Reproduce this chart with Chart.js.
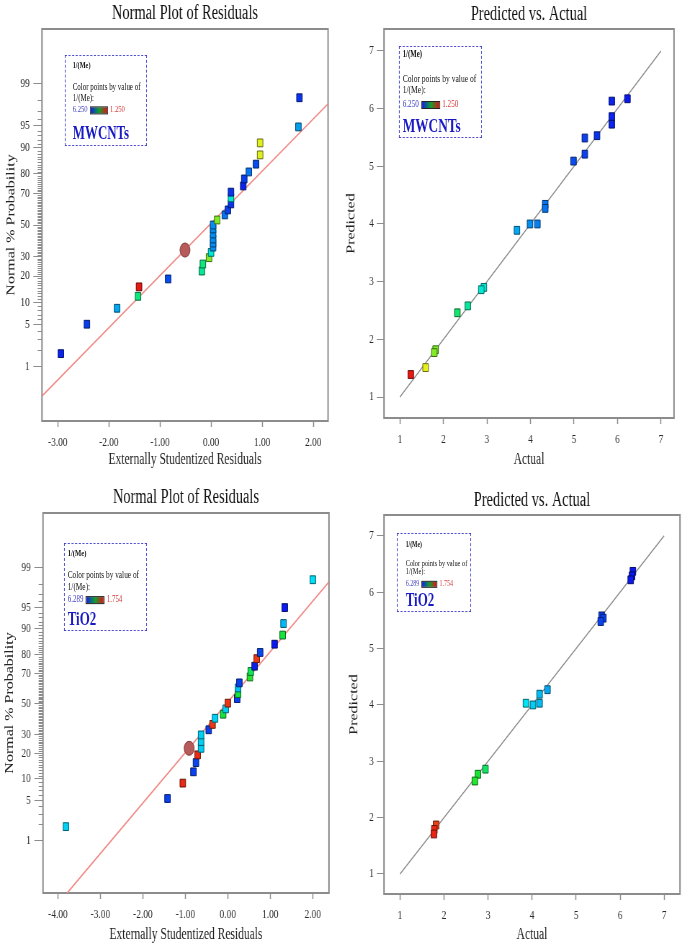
<!DOCTYPE html>
<html lang="en">
<head>
<meta charset="UTF-8">
<title>Normal Plot of Residuals / Predicted vs. Actual - MWCNTs and TiO2</title>
<script src="https://cdn.jsdelivr.net/npm/chart.js"></script>
<style>
  body { margin: 0; background: #fff; font-family: "Liberation Serif", "Times New Roman", serif; }
  #page { position: relative; width: 685px; height: 948px; overflow: hidden; background: #fff; }
  /* the source figure is squeezed sideways, so every panel is drawn wide and scaled down in x */
  .panel { position: absolute; transform: scaleX(0.72); transform-origin: 0 0; }
  .panel canvas { position: absolute; left: 0; top: 0; }
  .legend { position: absolute; box-sizing: border-box; border: 1.5px dashed #3535c8; color: #111; }
  .legend div { position: absolute; white-space: nowrap; line-height: 1; transform: translateY(-50%); }
  .legend .bar { display: inline-block; vertical-align: middle; box-sizing: border-box; border: 1px solid #222;
                 background: linear-gradient(to right, #1020e0, #10a030, #e01010); margin: 0 3px; }
</style>
</head>
<body>
<div id="page">
  <div class="panel" id="pTL" style="left:0;top:0;width:472px;height:474px"><canvas id="cTL" width="472" height="474"></canvas></div>
  <div class="panel" id="pTR" style="left:340px;top:0;width:479px;height:474px"><canvas id="cTR" width="479" height="474"></canvas></div>
  <div class="panel" id="pBL" style="left:0;top:474px;width:472px;height:474px"><canvas id="cBL" width="472" height="474"></canvas></div>
  <div class="panel" id="pBR" style="left:340px;top:474px;width:479px;height:474px"><canvas id="cBR" width="479" height="474"></canvas></div>
</div>
<script>
const K = 0.72;

// tick labels
const probTicks = [1, 5, 10, 20, 30, 50, 70, 80, 90, 95, 99];
const mwResidTicks = [-3, -2, -1, 0, 1, 2];
const tiResidTicks = [-4, -3, -2, -1, 0, 1, 2];
const unitTicks = [1, 2, 3, 4, 5, 6, 7];

// MWCNTs - normal plot of residuals (runs ordered by probability)
const mwResid = [-2.94, -2.43, -1.84, -1.43, -1.41, -0.84, -0.18, -0.16, -0.04, 0.00,
                 0.04, 0.04, 0.04, 0.04, 0.04, 0.04, 0.12, 0.27, 0.33, 0.39,
                 0.39, 0.39, 0.63, 0.65, 0.74, 0.88, 0.96, 0.96, 1.71, 1.73];
const mwProb = [1.7, 5.1, 8.5, 12.0, 15.4, 18.7, 22.4, 26.0, 29.5, 32.6,
                35.8, 38.3, 40.9, 44.1, 47.4, 50.0, 53.3, 56.6, 59.8, 63.6,
                67.3, 70.6, 74.0, 77.6, 80.9, 84.2, 87.6, 91.2, 94.7, 98.2];
// 1/(Me) of each run, which sets the point colour
const mwRunVal = [5.9, 5.3, 3.7, 2.4, 1.25, 5.0, 2.5, 2.4, 1.8, 2.9,
                  4.0, 4.0, 4.0, 4.0, 4.0, 4.0, 1.8, 4.3, 5.2, 5.5,
                  2.9, 5.5, 5.9, 5.3, 4.3, 5.0, 1.6, 1.6, 3.8, 5.5];
const mwFitResid = [-3.31, 2.29];
const mwFitProb = [0.24, 97.7];
const mwMarkResid = [-0.51];
const mwMarkProb = [34];

// MWCNTs - predicted vs. actual
const mwActual = [6.23, 5.87, 5.87, 5.87, 5.53, 5.25, 5.25, 4.99, 4.34, 4.34, 4.16,
                  3.99, 3.69, 2.93, 2.87, 2.56, 2.32, 1.82, 1.79, 1.59, 1.25];
const mwPredicted = [6.17, 6.13, 5.86, 5.73, 5.53, 5.49, 5.21, 5.09, 4.34, 4.27, 4.00,
                     4.00, 3.89, 2.90, 2.86, 2.58, 2.46, 1.82, 1.77, 1.51, 1.39];

// TiO2 - normal plot of residuals
const tiResid = [-3.81, -1.42, -1.06, -0.81, -0.75, -0.71, -0.63, -0.63, -0.63, -0.45,
                 -0.36, -0.30, -0.11, -0.05, 0.00, 0.22, 0.24, 0.24, 0.27, 0.52,
                 0.54, 0.63, 0.68, 0.76, 1.10, 1.29, 1.31, 1.34, 2.00];
const tiProb = [1.8, 5.3, 8.8, 12.3, 15.8, 19.2, 22.4, 26.0, 29.8, 32.9,
                36.3, 40.3, 43.0, 46.6, 50.5, 53.6, 57.0, 60.7, 64.0, 67.7,
                71.0, 74.0, 78.0, 81.0, 84.6, 88.0, 91.5, 95.0, 98.3];
const tiRunVal = [4.0, 5.6, 1.78, 5.6, 5.5, 1.78, 4.0, 4.0, 4.0, 5.6,
                  1.8, 4.0, 2.8, 4.0, 1.8, 5.6, 2.8, 4.1, 5.6, 2.7,
                  2.9, 6.2, 1.8, 5.5, 6.3, 2.8, 4.2, 6.2, 3.9];
const tiFitResid = [-3.78, 2.37];
const tiFitProb = [0.062, 98.1];
const tiMarkResid = [-0.91];
const tiMarkProb = [22.4];

// TiO2 - predicted vs. actual
const tiActual = [6.29, 6.27, 6.24, 5.58, 5.62, 5.56, 4.35, 4.17, 4.17, 4.02, 3.86,
                  2.94, 2.77, 2.70, 1.82, 1.78, 1.77];
const tiPredicted = [6.37, 6.29, 6.22, 5.58, 5.54, 5.48, 4.27, 4.19, 4.03, 4.00, 4.03,
                     2.86, 2.77, 2.65, 1.87, 1.79, 1.71];

const diagonal = [1, 7];

Chart.defaults.font.family = '"Liberation Serif", "Times New Roman", serif';

// inverse normal CDF (Acklam), used for the normal-probability axis
function probit(p) {
  const a = [-39.69683028665376, 220.9460984245205, -275.9285104469687, 138.3577518672690, -30.66479806614716, 2.506628277459239];
  const b = [-54.47609879822406, 161.5858368580409, -155.6989798598866, 66.80131188771972, -13.28068155288572];
  const c = [-0.007784894002430293, -0.3223964580411365, -2.400758277161838, -2.549732539343734, 4.374664141464968, 2.938163982698783];
  const d = [0.007784695709041462, 0.3224671290700398, 2.445134137142996, 3.754408661907416];
  const lo = 0.02425;
  let q, r;
  if (p < lo || p > 1 - lo) {
    q = Math.sqrt(-2 * Math.log(p < lo ? p : 1 - p));
    const z = (((((c[0]*q+c[1])*q+c[2])*q+c[3])*q+c[4])*q+c[5]) / ((((d[0]*q+d[1])*q+d[2])*q+d[3])*q+1);
    return p < lo ? z : -z;
  }
  q = p - 0.5; r = q * q;
  return (((((a[0]*r+a[1])*r+a[2])*r+a[3])*r+a[4])*r+a[5])*q / (((((b[0]*r+b[1])*r+b[2])*r+b[3])*r+b[4])*r+1);
}

// colour scale of Design-Expert: blue (high 1/(Me)) -> red (low), linear in Me
function meRgb(v, hi, lo) {
  const s = Math.min(1, Math.max(0, (1 / v - 1 / hi) / (1 / lo - 1 / hi)));
  const stops = [[12, 24, 235], [0, 232, 245], [24, 228, 48], [245, 240, 30], [232, 24, 20]];
  const f = s * 4, i = Math.min(3, Math.floor(f)), t = f - i;
  return stops[i].map((a, k) => Math.round(a + (stops[i + 1][k] - a) * t));
}
const fill = rgb => 'rgb(' + rgb.join(',') + ')';
const edge = rgb => 'rgb(' + rgb.map(c => Math.round(c * 0.45)).join(',') + ')';

const framePlugin = {
  id: 'frame',
  beforeDatasetsDraw(chart) {
    const { ctx, chartArea: a } = chart;
    ctx.save();
    ctx.strokeStyle = '#8c8c8c';
    ctx.lineWidth = 2;
    ctx.strokeRect(a.left, a.top, a.right - a.left, a.bottom - a.top);
    ctx.restore();
  }
};

const minorTickPlugin = {
  id: 'minorTicks',
  afterDraw(chart, args, opts) {
    if (!opts.values || !opts.values.length) return;
    const { ctx, chartArea: a } = chart;
    const y = chart.scales.y;
    ctx.save();
    ctx.strokeStyle = '#8c8c8c';
    ctx.lineWidth = 1;
    opts.values.forEach(v => {
      const py = Math.round(y.getPixelForValue(v)) + 0.5;
      ctx.beginPath();
      ctx.moveTo(a.left - 6, py);
      ctx.lineTo(a.left, py);
      ctx.stroke();
    });
    ctx.restore();
  }
};

function axis(o) {
  return {
    type: 'linear', position: o.pos, min: o.min, max: o.max,
    afterBuildTicks: s => { s.ticks = o.ticks.map(value => ({ value })); },
    afterFit: s => { if (o.pos === 'bottom') s.height = o.size; else s.width = o.size; },
    grid: { drawOnChartArea: false, drawTicks: true, tickLength: o.tickLen, tickColor: '#8c8c8c', tickWidth: o.tickWidth },
    border: { display: false },
    ticks: { autoSkip: false, maxRotation: 0, padding: o.pad, color: '#2a2a2a', font: { size: 13 }, callback: o.label },
    title: { display: true, text: o.title, color: '#222', font: { size: 16 }, padding: o.titlePad }
  };
}

function options(g, title, xAxis, yAxis, minor) {
  return {
    responsive: false, animation: false, devicePixelRatio: 1, events: [],
    layout: { padding: { left: 0, top: 0, right: g.W - g.right, bottom: g.H - g.xBottom } },
    plugins: {
      legend: { display: false },
      tooltip: { enabled: false },
      title: { display: true, text: title, fullSize: false, color: '#111',
               font: { size: 20, weight: 'normal' }, padding: { top: g.tTop, bottom: g.top - g.tTop - 24 } },
      minorTicks: { values: minor }
    },
    scales: { x: xAxis, y: yAxis }
  };
}

const minorZ = [];
for (let p = 1; p <= 99; p++) if (!probTicks.includes(p)) minorZ.push(probit(p / 100));

function normalChart(id, g, d) {
  const cols = d.run.map(v => meRgb(v, d.hi, d.lo));
  new Chart(document.getElementById(id), {
    type: 'scatter',
    data: { datasets: [
      { data: d.resid.map((x, i) => ({ x, y: probit(d.prob[i] / 100) })),
        pointStyle: 'rect', pointRadius: 5.5, pointBorderWidth: 1,
        pointBackgroundColor: cols.map(fill), pointBorderColor: cols.map(edge), order: 0 },
      { data: d.markX.map((x, i) => ({ x, y: probit(d.markP[i] / 100) })),
        pointStyle: 'circle', pointRadius: 7, pointBorderWidth: 1,
        pointBackgroundColor: '#b65a5a', pointBorderColor: '#7e3a3a', order: 1 },
      { data: d.fitX.map((x, i) => ({ x, y: probit(d.fitP[i] / 100) })),
        showLine: true, pointRadius: 0, borderColor: '#f08a86', borderWidth: 1.6, order: 2 }
    ] },
    options: options(g, 'Normal Plot of Residuals',
      axis({ pos: 'bottom', min: g.xMin, max: g.xMax, ticks: d.xTicks, size: g.xBottom - g.bottom,
             tickLen: 6, tickWidth: 1.5, pad: 8, label: v => v.toFixed(2),
             title: 'Externally Studentized Residuals', titlePad: { top: 0, bottom: 0 } }),
      axis({ pos: 'left', min: g.yMin, max: g.yMax, ticks: probTicks.map(p => probit(p / 100)), size: g.left,
             tickLen: 12, tickWidth: 1, pad: 5, label: (v, i) => String(probTicks[i]),
             title: 'Normal % Probability', titlePad: { top: g.yTitle - 9.6, bottom: 0 } }),
      minorZ),
    plugins: [framePlugin, minorTickPlugin]
  });
}

function predChart(id, g, d) {
  const cols = d.actual.map(v => meRgb(v, d.hi, d.lo));
  new Chart(document.getElementById(id), {
    type: 'scatter',
    data: { datasets: [
      { data: d.actual.map((x, i) => ({ x, y: d.pred[i] })),
        pointStyle: 'rect', pointRadius: 5.5, pointBorderWidth: 1,
        pointBackgroundColor: cols.map(fill), pointBorderColor: cols.map(edge), order: 0 },
      { data: diagonal.map(v => ({ x: v, y: v })),
        showLine: true, pointRadius: 0, borderColor: '#8a8a8a', borderWidth: 1.3, order: 1 }
    ] },
    options: options(g, 'Predicted vs. Actual',
      axis({ pos: 'bottom', min: g.xMin, max: g.xMax, ticks: unitTicks, size: g.xBottom - g.bottom,
             tickLen: 6, tickWidth: 1.5, pad: 8, label: v => String(v),
             title: 'Actual', titlePad: { top: 0, bottom: 0 } }),
      axis({ pos: 'left', min: g.yMin, max: g.yMax, ticks: unitTicks, size: g.left,
             tickLen: 10, tickWidth: 1, pad: 4, label: v => String(v),
             title: 'Predicted', titlePad: { top: g.yTitle - 9.6, bottom: 0 } }),
      []),
    plugins: [framePlugin, minorTickPlugin]
  });
}

function addLegend(panelId, L) {
  const box = document.createElement('div');
  box.className = 'legend';
  box.style.left = (L.x / K) + 'px';
  box.style.top = L.y + 'px';
  box.style.width = (L.w / K) + 'px';
  box.style.height = L.h + 'px';
  const rows = [
    ['<b>1/(Me)</b>', L.small * 0.9],
    ['Color points by value of', L.small],
    ['1/(Me):', L.small],
    '<span style="color:#4040c0">' + L.hi + '</span><span class="bar" style="width:' + (L.bar / K) +
      'px;height:' + L.barH + 'px"></span><span style="color:#d03a3a">' + L.lo + '</span>',
    ['<b style="color:#1a1ac4">' + L.name + '</b>', L.big]
  ];
  rows.forEach((r, i) => {
    const el = document.createElement('div');
    const html = Array.isArray(r) ? r[0] : r;
    el.innerHTML = html;
    el.style.fontSize = (Array.isArray(r) ? r[1] : L.small * 0.95) + 'px';
    el.style.left = (L.inset / K) + 'px';
    el.style.top = L.rows[i] + 'px';
    box.appendChild(el);
  });
  document.getElementById(panelId).appendChild(box);
}

normalChart('cTL',
  { W: 472, H: 474, left: 58.3, right: 455.6, top: 29, bottom: 421, xBottom: 469.6, yTitle: 15.3, tTop: 2,
    xMin: -3.31, xMax: 2.29, yMin: -3.23, yMax: 3.23 },
  { resid: mwResid, prob: mwProb, run: mwRunVal, hi: 6.25, lo: 1.25, xTicks: mwResidTicks,
    fitX: mwFitResid, fitP: mwFitProb, markX: mwMarkResid, markP: mwMarkProb });

predChart('cTR',
  { W: 479, H: 474, left: 61.1, right: 463.9, top: 29, bottom: 418, xBottom: 469.6, yTitle: 15.3, tTop: 3,
    xMin: 0.634, xMax: 7.30, yMin: 0.636, yMax: 7.38 },
  { actual: mwActual, pred: mwPredicted, hi: 6.25, lo: 1.25 });

normalChart('cBL',
  { W: 472, H: 474, left: 59.7, right: 456.9, top: 39, bottom: 419, xBottom: 470.6, yTitle: 13.9, tTop: 12,
    xMin: -4.35, xMax: 2.38, yMin: -3.23, yMax: 3.26 },
  { resid: tiResid, prob: tiProb, run: tiRunVal, hi: 6.289, lo: 1.754, xTicks: tiResidTicks,
    fitX: tiFitResid, fitP: tiFitProb, markX: tiMarkResid, markP: tiMarkProb });

predChart('cBR',
  { W: 479, H: 474, left: 61.1, right: 472.2, top: 41, bottom: 420, xBottom: 470.6, yTitle: 19.4, tTop: 15,
    xMin: 0.636, xMax: 7.36, yMin: 0.645, yMax: 7.37 },
  { actual: tiActual, pred: tiPredicted, hi: 6.289, lo: 1.754 });

addLegend('pTL', { x: 65, y: 55, w: 82, h: 91, inset: 7, rows: [9, 31, 42, 54, 77], small: 9.7, big: 18,
                   bar: 18, barH: 8, name: 'MWCNTs', hi: '6.250', lo: '1.250' });
addLegend('pTR', { x: 59, y: 46, w: 83, h: 92, inset: 3, rows: [8, 32, 43, 57, 79], small: 10.5, big: 18.5,
                   bar: 19, barH: 8, name: 'MWCNTs', hi: '6.250', lo: '1.250' });
addLegend('pBL', { x: 64, y: 69, w: 83, h: 88, inset: 3, rows: [10, 31, 43, 55, 75], small: 10.2, big: 18,
                   bar: 19, barH: 8, name: 'TiO2', hi: '6.289', lo: '1.754' });
addLegend('pBR', { x: 57, y: 59, w: 74, h: 79, inset: 8, rows: [11, 29, 37, 50, 66], small: 8.8, big: 18,
                   bar: 16, barH: 7, name: 'TiO2', hi: '6.289', lo: '1.754' });
</script>
</body>
</html>
